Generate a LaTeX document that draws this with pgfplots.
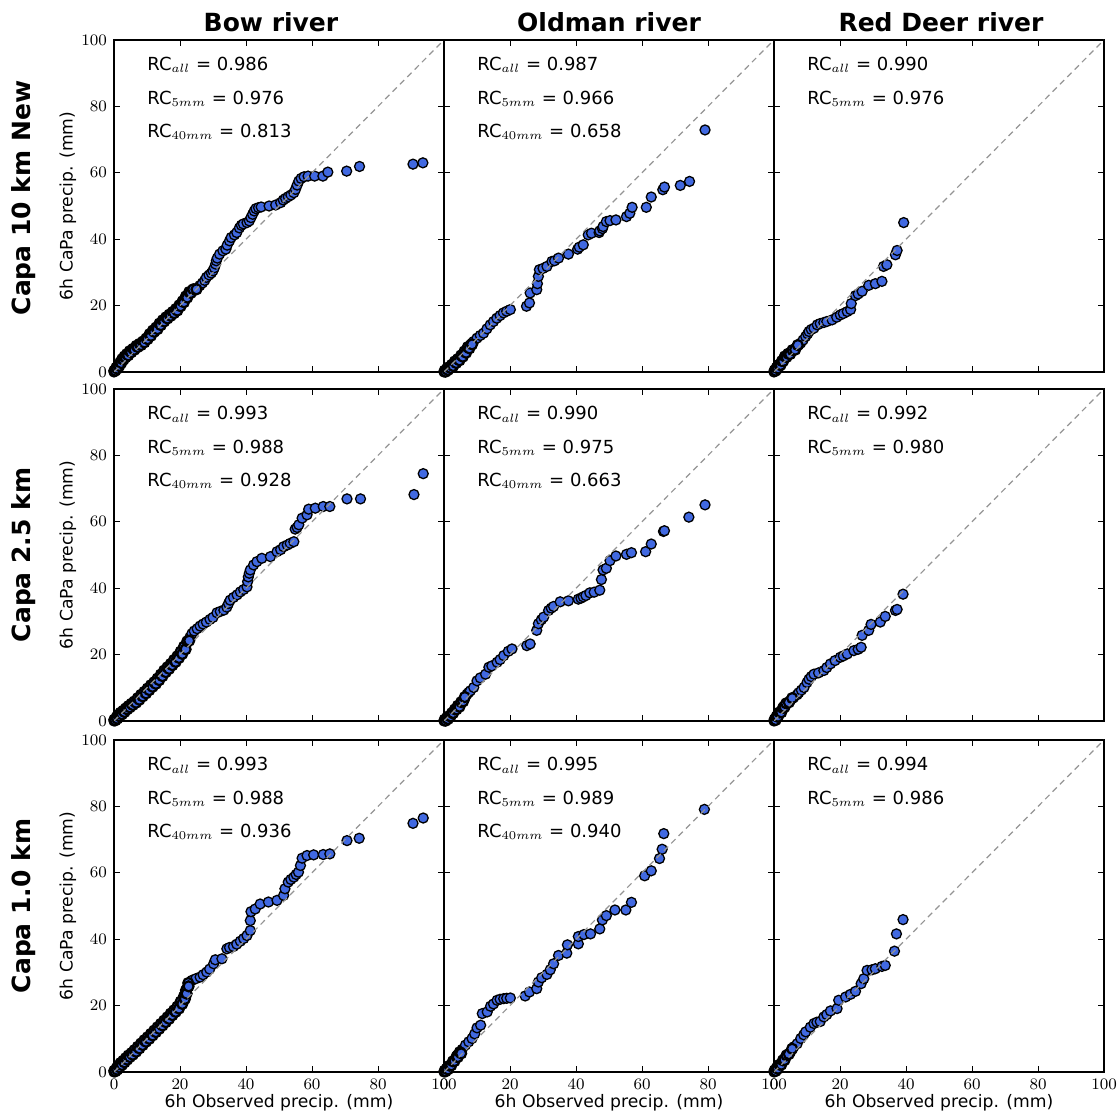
\documentclass[border=0pt]{standalone}
\usepackage[no-math]{fontspec}
\setmainfont{DejaVu Sans}
\usepackage{pgfplots}
\pgfplotsset{compat=1.18}
\definecolor{mblue}{RGB}{65,105,225}
\pgfplotsset{
  qq/.style={
    scale only axis, width=165pt, height=166pt, anchor=south west,
    xmin=0, xmax=100, ymin=0, ymax=100,
    xtick={0,20,...,100}, ytick={0,20,...,100},
    xticklabels={}, yticklabels={},
    tick align=inside, major tick length=3pt,
    every tick/.style={black, line width=0.5pt},
    axis line style={line width=0.6pt, black},
    ticklabel style={font=\fontsize{8.2}{9}\selectfont},
    clip mode=individual,
  },
  showx/.style={xticklabels={$0$,$20$,$40$,$60$,$80$,$100$}},
  showy/.style={yticklabels={$0$,$20$,$40$,$60$,$80$,$100$}},
  pts/.style={only marks, mark=*, mark size=2.5pt, mark options={fill=mblue, draw=black, line width=0.65pt}},
  ptsd/.style={only marks, mark=*, mark size=2.5pt, mark options={fill=mblue, draw=black, line width=1.1pt}},
  diag/.style={black!42, line width=0.6pt, dash pattern=on 3pt off 2.2pt},
}
\newcommand{\rcii}[2]{%
  \node[anchor=base west, inner sep=0pt, font=\fontsize{9}{11}\selectfont] at (axis cs:10,90.7) {RC$_{all}$ = #1};
  \node[anchor=base west, inner sep=0pt, font=\fontsize{9}{11}\selectfont] at (axis cs:10,80.7) {RC$_{5mm}$ = #2};}
\newcommand{\rciii}[3]{\rcii{#1}{#2}%
  \node[anchor=base west, inner sep=0pt, font=\fontsize{9}{11}\selectfont] at (axis cs:10,70.7) {RC$_{40mm}$ = #3};}
\newcommand{\ylab}{\node[xshift=-23pt, rotate=90, font=\fontsize{8.6}{10}\selectfont] at (rel axis cs:0,0.5) {6h CaPa precip. (mm)};}
\newcommand{\xlab}{\node[yshift=-15.5pt, font=\fontsize{8.6}{10}\selectfont] at (rel axis cs:0.5,0) {6h Observed precip. (mm)};}
\newcommand{\rowlab}[2]{\node[xshift=-45pt, yshift=#2, rotate=90, font=\bfseries\fontsize{12.5}{14}\selectfont] at (rel axis cs:0,0.5) {#1};}
\newcommand{\coltitle}[2]{\node[anchor=base, xshift=#2, yshift=4.2pt, font=\bfseries\fontsize{12.5}{14}\selectfont] at (rel axis cs:0.5,1) {#1};}
\begin{document}
\begin{tikzpicture}
\useasboundingbox (0,0) rectangle (558.5pt,558.5pt);
% ---------------- Row 1: Capa 10 km New
\begin{axis}[qq, showy, at={(57pt,372.5pt)}]
\addplot[pts] coordinates {(0,0) (0.2,0.3) (0.5,0.7) (0.8,1.1) (1.1,1.5) (1.4,1.9) (1.7,2.4) (2,2.9) (2.3,3.4) (2.7,3.9) (3,4.3) (3.3,4.6) (3.7,5) (4.1,5.4) (4.5,5.8) (5,6.2) (5.5,6.6) (6,7) (6.5,7.4) (7,7.8) (7.5,8.1) (8,8.4) (8.5,8.7) (9,9.1) (9.5,9.6) (10,10.2) (10.5,10.8) (11,11.4) (11.5,12) (12,12.5) (12.5,12.9) (13,13.4) (13.5,14) (14,14.6) (14.5,15.1) (15,15.6) (15.5,16) (16,16.4) (16.5,16.8) (17,17.2) (17.5,17.6) (18,18) (18.5,18.4) (19,18.9) (19.5,19.4) (20,20) (20.5,20.7) (21,21.4) (21.5,22.2) (22,22.9) (22.5,23.5) (23,24) (23.7,24.4) (24.5,24.8) (25.2,25.3) (26,26) (26.8,26.8) (27.5,27.6) (28,28.5) (28.8,29.2) (29.5,29.8) (30,30.5) (30.4,31.4) (30.8,32.5) (31,33.5) (31.3,34.3) (32,35.5) (33,36.5) (33.9,37) (34.3,38.2) (35,39.5) (35.5,40.5) (36.5,41.3) (37.2,42) (38,43.4) (38.6,44.2) (39.2,44.6) (40.3,45) (41,45.5) (41.5,46.5) (42,47.5) (42.5,48.5) (43,49.2) (43.8,49.5) (44.6,49.7) (47,50) (49,50.3) (50.5,51) (51.3,51.8) (52,52.3) (52.8,52.8) (53.6,53.3) (54.5,54) (55,55) (55.5,56.3) (56,57.5) (56.7,58.3) (57.6,58.8) (58.8,59) (60.8,59) (63.3,59) (64.8,60.2) (70.5,60.5) (74.4,61.9) (90.6,62.6) (93.6,63)};
\addplot[ptsd] coordinates {(0.1,0.4) (0.4,0.4) (0.7,1.3) (1,1.0) (1.3,2.1) (1.6,1.8) (1.9,2.9) (2.2,2.7) (2.5,3.9) (2.9,3.7) (3.2,4.7) (3.5,4.4) (3.9,5.4) (4.3,5.0) (4.8,6.3) (5.2,5.9) (5.8,7.0) (6.2,6.7) (6.8,7.9) (7.2,7.5) (7.8,8.5) (8.2,8.1) (8.8,9.2) (9.2,8.9) (9.8,10.1) (10.2,9.9) (10.8,11.4) (11.2,10.9) (11.8,12.5) (12.2,12.1) (12.8,13.4) (13.2,12.9) (13.8,14.6) (14.2,14.1) (14.8,15.6) (15.2,15.2) (15.8,16.5) (16.2,16.1) (16.8,17.3) (17.2,16.9) (17.8,18.1) (18.2,17.7) (18.8,19) (19.2,18.5) (19.8,20.1) (20.2,19.8) (20.8,21.3) (21.2,21.0) (21.8,22.8) (22.2,22.4) (22.8,24.1) (23.3,23.8) (24,24.9) (25,24.9)};
\addplot[diag] coordinates {(0,0) (100,100)};
\rciii{0.986}{0.976}{0.813}
\ylab
\rowlab{Capa 10 km New}{4pt}
\coltitle{Bow river}{-4pt}
\end{axis}
\begin{axis}[qq, at={(222pt,372.5pt)}]
\addplot[pts] coordinates {(0,0) (0.3,0.2) (0.6,0.4) (1,0.7) (1.4,1) (1.8,1.4) (2.2,1.8) (2.6,2.2) (3,2.6) (3.5,3.1) (4,3.5) (4.5,3.9) (5,4.4) (5.5,5.1) (6,5.7) (6.5,6.3) (7,7) (7.5,7.6) (8,8.2) (8.5,8.7) (9,9.2) (10,10.2) (11,11) (12,11.7) (13,13) (14,14.2) (15,15.2) (16,16.2) (17,17) (18,17.8) (19,18.3) (20.1,18.8) (25,19.8) (25.9,20.8) (26.1,23.8) (28.1,24.8) (28.3,26.6) (28.6,28.8) (28.9,30.8) (30,31.2) (31.2,31.8) (32.7,33.3) (33.5,33.5) (34.7,34.3) (37.7,35.5) (40.5,37) (41,37.6) (42.2,38.3) (43.7,41.3) (44.7,41.8) (47,42) (47.2,42.5) (48,43.2) (48.2,43.8) (49.2,45.3) (50.3,45.6) (52.1,45.8) (55.3,46.8) (56.3,47.8) (57,49.6) (61.3,49.6) (62.8,52.7) (66.3,54.9) (66.8,55.7) (71.6,56.2) (74.4,57.4) (79.1,72.9)};
\addplot[ptsd] coordinates {(0.2,0.4) (0.5,0.1) (0.9,1) (1.2,0.6) (1.6,1.5) (2,1.2) (2.4,2.2) (2.8,1.8) (3.3,3.2) (3.7,2.7) (4.2,3.9) (4.7,3.5) (5.2,5) (5.7,4.6) (6.2,6.2) (6.7,5.8) (7.2,7.5) (7.7,7.1) (8.5,8.3)};
\addplot[diag] coordinates {(0,0) (100,100)};
\rciii{0.987}{0.966}{0.658}
\coltitle{Oldman river}{0pt}
\end{axis}
\begin{axis}[qq, at={(387pt,372.5pt)}]
\addplot[pts] coordinates {(0,0) (0.3,0.4) (0.6,0.8) (1,1.2) (1.4,1.7) (1.8,2.3) (2.2,2.8) (2.6,3.4) (3,4.2) (3.5,4.6) (4,5) (4.6,5.5) (5.2,6) (6,6.7) (6.8,7.5) (7.5,8.2) (8.1,8.7) (8.8,9.6) (9.6,10.7) (10.2,11.5) (10.6,12.2) (11.3,12.8) (12.1,13.2) (13.1,14.2) (14,14.6) (15.1,14.9) (16,15.2) (17.6,15.7) (19,16.5) (20.1,17.2) (21,17.6) (22.2,18.2) (23.2,18.8) (23.4,20.6) (24.7,23) (25.5,23.5) (26.7,24.3) (28.7,26.1) (30.7,26.6) (32.7,27.3) (33.2,31.8) (34.2,32.3) (36.8,35.3) (37.3,36.6) (39.3,45)};
\addplot[ptsd] coordinates {(0.2,0.5) (0.5,0.4) (0.8,1.3) (1.2,1.1) (1.6,2.2) (2,2.1) (2.4,3.3) (2.8,3.3) (3.3,4.7) (3.8,4.5) (4.3,5.5) (4.9,5.4) (5.6,6.6) (6.4,6.7) (7.2,8.1)};
\addplot[diag] coordinates {(0,0) (100,100)};
\rcii{0.990}{0.976}
\coltitle{Red Deer river}{1pt}
\end{axis}
% ---------------- Row 2: Capa 2.5 km
\begin{axis}[qq, showy, at={(57pt,198pt)}]
\addplot[pts] coordinates {(0,0) (0.3,0.4) (0.6,0.7) (0.9,1) (1.2,1.3) (1.5,1.6) (1.8,1.9) (2.2,2.2) (2.6,2.6) (3,3) (3.4,3.3) (3.8,3.7) (4.2,4) (4.6,4.3) (5,4.6) (5.5,5.1) (6,5.5) (6.5,5.9) (7,6.4) (7.5,6.9) (8,7.4) (8.5,7.9) (9,8.3) (9.5,8.8) (10,9.3) (10.5,9.8) (11,10.3) (11.5,10.7) (12,11.2) (12.5,11.7) (13,12.3) (13.5,12.8) (14,13.4) (14.5,14) (15,14.6) (15.5,15.2) (16,15.7) (16.5,16.2) (17,16.7) (17.5,17.2) (18,17.8) (18.5,18.4) (19,19) (19.5,19.5) (20,20.2) (20.5,20.9) (21,21.6) (21.5,22.4) (22,23.2) (22.5,24) (23,25.2) (23.6,26.3) (24.3,27.1) (25.2,27.8) (26.1,28.6) (27,29.2) (28,29.8) (29.1,30.6) (30,31.2) (31.2,32.6) (32.2,33) (33.3,33.4) (34.2,34.3) (34.7,35.4) (35.2,36.4) (36.2,37.2) (37.3,38) (38.3,38.9) (39.3,39.6) (40.3,40.4) (40.5,42) (40.7,43.4) (41,44.5) (41.3,45.5) (42.3,47) (43.3,48) (44.8,49) (47.4,49.5) (49.4,51) (50.5,51.6) (51.4,52.5) (52.5,53) (53.4,53.5) (54.5,54) (54.9,57.8) (55.5,58.3) (56,59.1) (57,61.1) (58.5,62.1) (59,63.8) (61,64.1) (63.4,64.6) (65.4,64.6) (70.6,66.9) (74.7,66.9) (90.9,68.2) (93.7,74.5)};
\addplot[ptsd] coordinates {(0.1,0.4) (0.4,0.2) (0.8,1.2) (1,0.7) (1.4,1.9) (1.7,1.4) (2,2.5) (2.4,2) (2.8,3.1) (3.2,2.7) (3.6,3.8) (4,3.5) (4.4,4.5) (4.8,4.1) (5.3,5.2) (5.7,4.8) (6.2,5.9) (6.7,5.5) (7.2,6.9) (7.7,6.4) (8.2,7.9) (8.7,7.4) (9.2,8.8) (9.7,8.3) (10.2,9.8) (10.7,9.3) (11.2,10.8) (11.7,10.3) (12.2,11.7) (12.7,11.2) (13.2,12.8) (13.7,12.3) (14.2,14) (14.7,13.5) (15.2,15.2) (15.7,14.7) (16.2,16.2) (16.7,15.7) (17.2,17.2) (17.7,16.8) (18.2,18.4) (18.7,17.8) (19.2,19.5) (19.7,19) (20.2,20.9) (20.7,20.2) (21.2,22.4) (21.7,21.6) (22.2,24) (22.8,24.2)};
\addplot[diag] coordinates {(0,0) (100,100)};
\rciii{0.993}{0.988}{0.928}
\ylab
\rowlab{Capa 2.5 km}{0pt}
\end{axis}
\begin{axis}[qq, at={(222pt,198pt)}]
\addplot[pts] coordinates {(0,0) (0.3,0.2) (0.6,0.4) (1,0.7) (1.4,1.1) (1.8,1.5) (2.2,2) (2.6,2.4) (3,3) (3.5,3.5) (4,4) (4.5,4.6) (5,5.1) (5.5,5.8) (6,6.5) (6.5,7.3) (7,8.1) (7.5,8.6) (8,9.1) (9,10.1) (10,12.1) (11,13) (12.6,14.1) (13.6,16.2) (14.5,16.6) (16.1,17.7) (17,18.5) (18.1,19.7) (19.5,21) (20.6,21.7) (25.1,22.7) (26.1,23.2) (28.1,27.3) (28.6,29.3) (29.5,30.5) (30.2,31.3) (31.7,33.3) (32.5,34) (33.2,34.5) (35.2,35.9) (37.7,36.2) (40.7,36.7) (41.5,37) (42.2,37.4) (43,37.8) (44.2,38.6) (45.5,38.8) (47.2,39.4) (47.7,42.6) (48.2,45.5) (49.2,46) (50.3,48.3) (52.1,49.7) (55.3,50.2) (56.8,50.7) (61.1,51) (62.8,53.3) (66.5,57.1) (66.8,57.3) (74.2,61.4) (79.1,65.1)};
\addplot[ptsd] coordinates {(0.2,0.4) (0.5,0.1) (0.9,1) (1.2,0.6) (1.6,1.5) (2,1.4) (2.4,2.4) (2.8,2.4) (3.3,3.5) (3.8,3.5) (4.2,4.6) (4.7,4.3) (5.2,5.7) (5.8,5.9) (6.3,7.2)};
\addplot[diag] coordinates {(0,0) (100,100)};
\rciii{0.990}{0.975}{0.663}
\end{axis}
\begin{axis}[qq, at={(387pt,198pt)}]
\addplot[pts] coordinates {(0,0) (0.3,0.4) (0.6,0.8) (1,1.5) (1.4,2) (2,2.8) (2.5,3.4) (3,4.5) (3.5,4.8) (4,5.5) (5,6.2) (6,7.1) (7,7.9) (7.5,8.5) (8.3,9.3) (9.1,10.1) (10,11.6) (10.6,12.6) (11.3,13.4) (12.1,14.1) (13.5,14.5) (15.1,15.2) (16,16.1) (17.1,17.2) (18.5,18.2) (20.1,19.2) (21,19.6) (22.2,20.2) (24.2,21.2) (25.5,21.6) (26.4,22.2) (26.7,25.8) (28.7,27.3) (29.4,29.1) (32.2,29.8) (33.7,31.5) (36.8,33.3) (37.3,33.6) (39.1,38.2)};
\addplot[ptsd] coordinates {(0.2,0.5) (0.5,0.3) (0.8,1.4) (1.2,1.3) (1.7,2.6) (2.2,2.6) (2.7,3.9) (3.2,4.2) (3.7,5.3) (4.5,5.6) (5.5,6.9)};
\addplot[diag] coordinates {(0,0) (100,100)};
\rcii{0.992}{0.980}
\end{axis}
% ---------------- Row 3: Capa 1.0 km
\begin{axis}[qq, showx, showy, at={(57pt,22.5pt)}]
\addplot[pts] coordinates {(0,0) (0.3,0.4) (0.6,0.8) (0.9,1.1) (1.2,1.4) (1.5,1.7) (1.8,2) (2.2,2.4) (2.6,2.8) (3,3.2) (3.4,3.6) (3.8,4) (4.2,4.4) (4.6,4.8) (5,5.2) (5.5,5.7) (6,6.1) (6.5,6.6) (7,7.1) (7.5,7.6) (8,8.1) (8.5,8.6) (9,9.1) (9.5,9.6) (10,10) (10.5,10.5) (11,11) (11.5,11.5) (12,12) (12.5,12.5) (13,13) (13.5,13.5) (14,14) (14.5,14.5) (15,15) (15.5,15.5) (16,16) (16.5,16.5) (17,17.1) (17.5,17.6) (18,18.1) (18.5,18.6) (19,19.1) (19.5,19.7) (20,20.5) (20.5,21.2) (21,22) (21.3,22.8) (21.6,23.6) (21.9,24.6) (22.3,25.8) (22.8,26.8) (23.6,27.6) (24.8,28.1) (26.1,28.6) (27,29.3) (28.1,30.1) (29,31) (30.2,32.6) (30.7,33.8) (32.7,34.1) (34.2,37.1) (35,37.5) (36.2,37.8) (37.2,38.5) (38.3,39.4) (39.3,40.2) (40.3,41.1) (41.3,42.6) (41.3,45.6) (41.5,48.3) (42.8,49.1) (44.3,50.6) (46.8,51.2) (49.4,51.7) (51.4,53.2) (51.8,55.2) (52.8,57.2) (53.6,58) (54.5,58.7) (55.2,59.5) (55.9,60.2) (56.5,62.2) (57,64.4) (58.5,65.2) (60.5,65.4) (63.4,65.5) (65.4,65.7) (70.6,69.7) (74.3,70.4) (90.6,74.9) (93.7,76.5)};
\addplot[ptsd] coordinates {(0.1,0.4) (0.4,0.2) (0.8,1.2) (1,0.7) (1.4,2) (1.7,1.4) (2,2.7) (2.4,2.1) (2.8,3.4) (3.2,2.9) (3.6,4.2) (4,3.7) (4.4,5) (4.8,4.5) (5.3,5.7) (5.7,5.2) (6.2,6.6) (6.7,6.1) (7.2,7.6) (7.7,7.1) (8.2,8.6) (8.7,8.1) (9.2,9.6) (9.7,9.1) (10.2,10.5) (10.7,10) (11.2,11.5) (11.7,11) (12.2,12.5) (12.7,12) (13.2,13.5) (13.7,13) (14.2,14.5) (14.7,14) (15.2,15.5) (15.7,15) (16.2,16.5) (16.7,16) (17.2,17.6) (17.7,17.1) (18.2,18.6) (18.7,18.1) (19.2,19.7) (19.7,19.1) (20.2,21.2) (20.7,20.5) (21.2,22.8) (21.5,22) (21.8,24.6) (22,23.6) (22.5,26.8) (22.6,25.8)};
\addplot[diag] coordinates {(0,0) (100,100)};
\rciii{0.993}{0.988}{0.936}
\ylab
\xlab
\rowlab{Capa 1.0 km}{0pt}
\end{axis}
\begin{axis}[qq, showx, at={(222pt,22.5pt)}]
\addplot[pts] coordinates {(0,0) (0.3,0.3) (0.6,0.6) (1,1) (1.5,1.3) (2,2) (2.5,2.8) (3,3.5) (3.5,4) (4,5.1) (4.5,5.5) (5,6) (5.5,6.8) (6.5,8.1) (7.5,9.1) (8.5,10.1) (9.3,11.5) (10,13.3) (11.1,14.1) (11.6,17.6) (13.1,18.1) (14.1,19.8) (15,20.5) (16.1,21.6) (17,21.9) (18.1,22.1) (19,22.2) (20.1,22.3) (24.6,22.9) (25.9,24.1) (28.1,25.1) (28.6,27.1) (29.6,28.4) (31.2,29.4) (32.2,30.8) (33.2,32.6) (34.7,35.1) (37.2,35.8) (37.4,38.3) (40.7,38.6) (40.7,40.8) (42.4,41.4) (44.4,41.6) (47.2,43.1) (48,45.8) (49.2,47.1) (51.8,48.8) (55.1,48.8) (56.8,51.1) (60.8,59.1) (62.8,60.6) (65.3,64.3) (66.1,67.1) (66.6,71.8) (78.9,79.1)};
\addplot[ptsd] coordinates {(0.2,0.4) (0.5,0.2) (0.8,1) (1.2,0.8) (1.7,1.9) (2.2,2) (2.7,3.2) (3.2,3.3) (3.8,4.6) (4.2,4.5) (4.8,6) (5.2,5.6)};
\addplot[diag] coordinates {(0,0) (100,100)};
\rciii{0.995}{0.989}{0.940}
\xlab
\end{axis}
\begin{axis}[qq, showx, at={(387pt,22.5pt)}]
\addplot[pts] coordinates {(0,0) (0.3,0.4) (0.6,0.8) (1,1.2) (1.5,1.6) (2,2.4) (2.5,3) (3,3.9) (3.5,4.6) (4,5.2) (5,6) (6,7.6) (7,8.5) (8.1,10.1) (9,11.2) (9.6,12.1) (11,13.5) (12.1,14.6) (13,15) (14,15.2) (15.1,16.6) (16,17.3) (17.1,18.4) (19.1,19.1) (19.6,21.6) (21.7,22.6) (23.2,23.4) (24.7,24.3) (26.4,26.6) (27.2,28.1) (28.2,30.6) (29.7,30.8) (30.7,31.1) (32.7,31.8) (33.7,32.1) (36.5,36.4) (37.1,41.6) (39.1,45.9)};
\addplot[ptsd] coordinates {(0.2,0.5) (0.5,0.3) (0.8,1.2) (1.2,1) (1.7,2.2) (2.2,2.2) (2.7,3.5) (3.2,3.6) (3.8,5) (4.5,5.4) (5.5,7)};
\addplot[diag] coordinates {(0,0) (100,100)};
\rcii{0.994}{0.986}
\xlab
\end{axis}
\end{tikzpicture}
\end{document}
